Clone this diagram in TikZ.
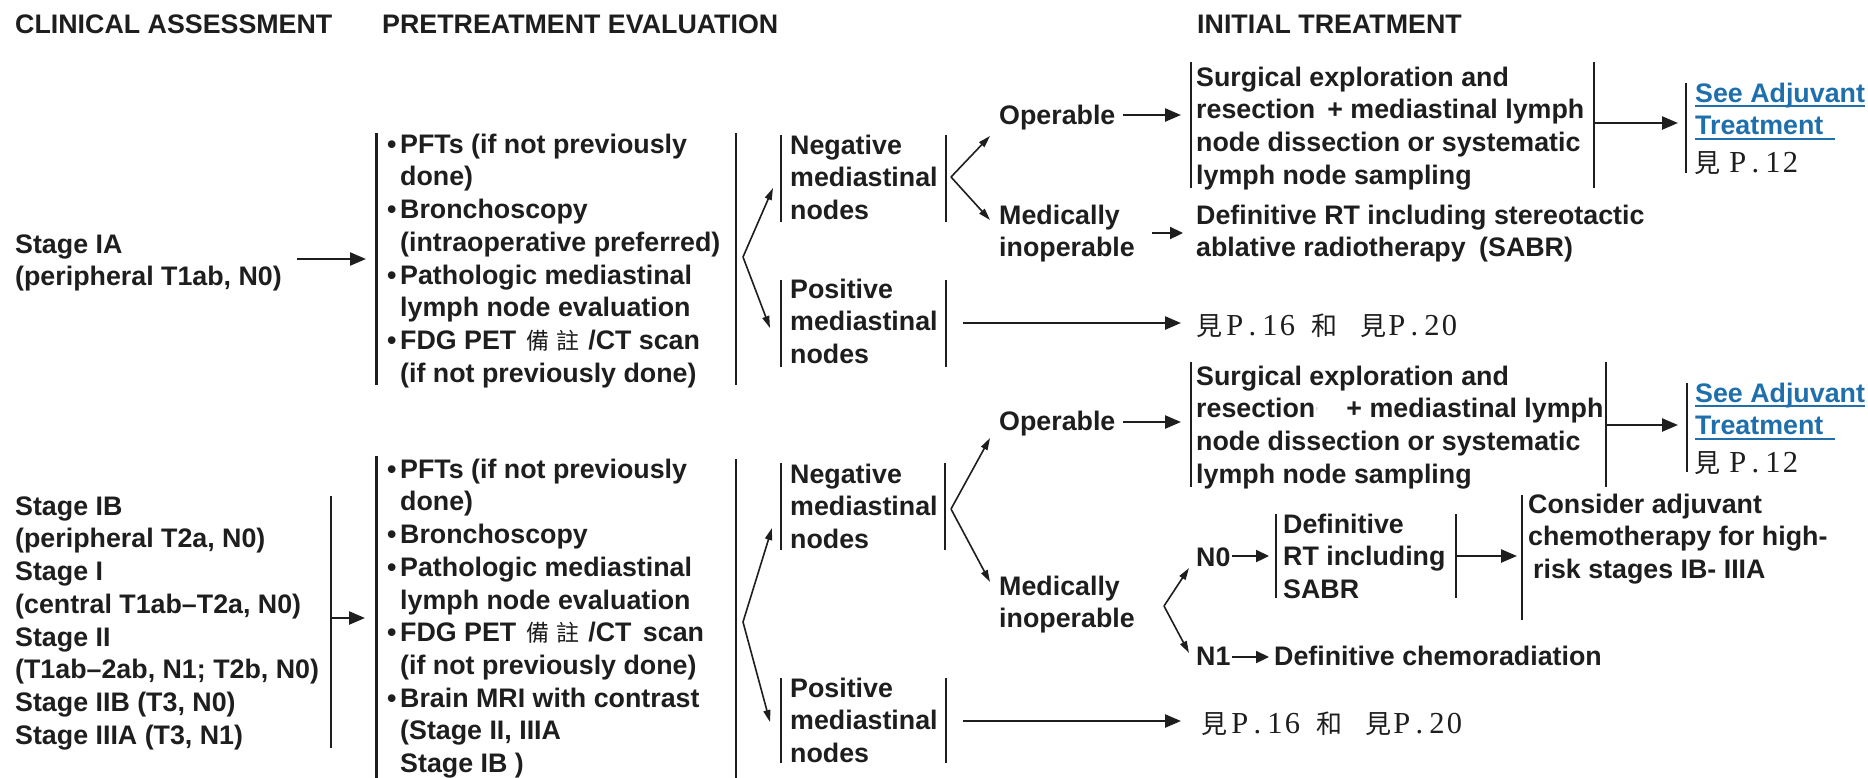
\documentclass[tikz,border=0pt]{standalone}
\usepackage{fontspec}
\usepackage{graphicx}
\setmainfont{Liberation Sans}
\newfontfamily\cjk{Noto Sans CJK TC}
\newfontfamily\serifm{Liberation Serif}
\usetikzlibrary{arrows.meta}

\definecolor{ink}{RGB}{30,30,30}
\definecolor{linkblue}{RGB}{31,111,173}

\newcommand\bodyfont{\fontsize{26.8}{32.7}\selectfont\bfseries}
\newcommand\fs{\rule{0pt}{20pt}}
\newcommand\bul{\makebox[13pt][l]{\textbullet}}
\newcommand\ind{\hspace*{13pt}}
% fixed-pitch serif page references
\newcommand\mingfont{\serifm\mdseries\fontsize{30.5}{32}\selectfont}
\newcommand\mc[1]{\makebox[17.5pt][c]{#1}}
\newcommand\hz[2][25pt]{\makebox[#1][c]{\cjk\mdseries\fontsize{26}{26}\selectfont #2}}
\newcommand\note{\makebox[30pt][c]{\cjk\mdseries\fontsize{23}{23}\selectfont 備}\makebox[30pt][c]{\cjk\mdseries\fontsize{23}{23}\selectfont 註}}
\newcommand\linkline[1]{\setbox0\hbox{#1}\rlap{\rule[-5pt]{\wd0}{2pt}}\box0}
\newcommand\seepage[1]{\hz{見}\hspace{9pt}{\mingfont\mc{P}\mc{.}#1}}
\newcommand\seeboth{\hz{見}\hspace{4pt}{\mingfont\mc{P}\mc{.}\mc{1}\mc{6}}\hspace{16pt}\hz{和}\hspace{24pt}\hz{見}\hspace{2pt}{\mingfont\mc{P}\mc{.}\mc{2}\mc{0}}}

\begin{document}
\begin{tikzpicture}[x=1pt,y=-1pt,
  txt/.style={anchor=north west, inner sep=0pt, align=left, font=\bodyfont, text=ink},
  bl/.style={anchor=base west, inner sep=0pt, font=\bodyfont, text=ink},
  bar/.style={draw=ink, line width=2.2pt},
  conn/.style={draw=ink, line width=2.4pt, -{Triangle[length=16pt,width=13pt]}},
  shortconn/.style={draw=ink, line width=2.2pt, -{Triangle[length=13pt,width=12pt]}},
  fork/.style={draw=ink, line width=1.6pt, -{Triangle[length=12pt,width=7pt]}}]
\useasboundingbox[fill=white] (0,0) rectangle (1868,777);

% column headings
\node[txt] (hca) at (15,13) {\fs CLINICAL ASSESSMENT};
\node[txt] (hpe) at (382,13) {\fs PRETREATMENT EVALUATION};
\node[txt] (hit) at (1197,13) {\fs INITIAL TREATMENT};

% ---------------- Stage IA ----------------
\node[txt] (sIA) at (15,233) {\fs Stage IA\\(peripheral T1ab, N0)};
\coordinate (sIAo) at (297,259);
\coordinate (p1i) at (366,259);
\draw[conn] (sIAo) -- (p1i);

\node[txt] (pre1) at (387,133) {\fs\bul PFTs (if not previously\\
  \ind done)\\
  \bul Bronchoscopy\\
  \ind(intraoperative preferred)\\
  \bul Pathologic mediastinal\\
  \ind lymph node evaluation\\
  \bul FDG PET\hspace{7pt}\note\hspace{5pt}/CT scan\\
  \ind(if not previously done)};
\draw[bar] (376.5,133) -- (376.5,385);
\draw[bar] (736,133) -- (736,385);

\coordinate (f1) at (743,257);
\coordinate (neg1i) at (773,188);
\coordinate (pos1i) at (770,328);
\draw[fork] (f1) -- (neg1i);
\draw[fork] (f1) -- (pos1i);

\node[txt] (neg1) at (790,134) {\fs Negative\\mediastinal\\nodes};
\draw[bar] (781,135) -- (781,222);
\draw[bar] (946,135) -- (946,222);
\node[txt] (pos1) at (790,278) {\fs Positive\\mediastinal\\nodes};
\draw[bar] (781,280) -- (781,367);
\draw[bar] (946,280) -- (946,367);

\coordinate (f2) at (951,177);
\coordinate (op1i) at (990,136);
\coordinate (med1i) at (990,220);
\draw[fork] (f2) -- (op1i);
\draw[fork] (f2) -- (med1i);

\node[txt] (op1) at (999,104) {\fs Operable};
\coordinate (op1o) at (1123,115);
\coordinate (sur1i) at (1181,115);
\draw[conn] (op1o) -- (sur1i);

\node[txt] (sur1) at (1196,66) {\fs Surgical exploration and\\
  resection\hspace{12pt}+ mediastinal lymph\\
  node dissection or systematic\\
  lymph node sampling};
\draw[bar] (1191,62) -- (1191,188);
\draw[bar] (1594,62) -- (1594,188);
\coordinate (sur1o) at (1594,123);
\coordinate (see1i) at (1678,123);
\draw[conn] (sur1o) -- (see1i);

\node[txt] (see1) at (1695,82) {\fs{\color{linkblue}\linkline{See Adjuvant}}\\
  {\color{linkblue}\linkline{Treatment\hspace{12pt}}}\\[5pt]
  \seepage{\mc{1}\mc{2}}};
\draw[bar] (1686,83) -- (1686,173);

\node[txt] (med1) at (999,204) {\fs Medically\\inoperable};
\coordinate (med1o) at (1152,233);
\coordinate (sabr1i) at (1183,233);
\draw[shortconn] (med1o) -- (sabr1i);
\node[txt] (sabr1) at (1196,204) {\fs Definitive RT including stereotactic\\
  ablative radiotherapy\hspace{6pt} (SABR)};

\coordinate (pos1o) at (963,323);
\coordinate (ref1i) at (1181,323);
\draw[conn] (pos1o) -- (ref1i);
\node[bl] (ref1) at (1197,335) {\seeboth};

% ---------------- Stage IB - IIIA ----------------
\node[txt] (sIB) at (15,495) {\fs Stage IB\\
  (peripheral T2a, N0)\\
  Stage I\\
  (central T1ab--T2a, N0)\\
  Stage II\\
  (T1ab--2ab, N1; T2b, N0)\\
  Stage IIB (T3, N0)\\
  Stage IIIA (T3, N1)};
\draw[bar] (331,496) -- (331,748);
\coordinate (sIBo) at (331,618);
\coordinate (p2i) at (365,618);
\draw[conn] (sIBo) -- (p2i);

\node[txt] (pre2) at (387,458) {\fs\bul PFTs (if not previously\\
  \ind done)\\
  \bul Bronchoscopy\\
  \bul Pathologic mediastinal\\
  \ind lymph node evaluation\\
  \bul FDG PET\hspace{7pt}\note\hspace{5pt}/CT\hspace{4pt} scan\\
  \ind(if not previously done)\\
  \bul Brain MRI with contrast\\
  \ind(Stage II, IIIA\\
  \ind Stage IB )};
\draw[bar] (376.5,456) -- (376.5,780);
\draw[bar] (736,459) -- (736,780);

\coordinate (f3) at (743,622);
\coordinate (neg2i) at (772,528);
\coordinate (pos2i) at (770,722);
\draw[fork] (f3) -- (neg2i);
\draw[fork] (f3) -- (pos2i);

\node[txt] (neg2) at (790,463) {\fs Negative\\mediastinal\\nodes};
\draw[bar] (781,463) -- (781,550);
\draw[bar] (945,463) -- (945,550);
\node[txt] (pos2) at (790,677) {\fs Positive\\mediastinal\\nodes};
\draw[bar] (781,678) -- (781,763);
\draw[bar] (946,678) -- (946,763);

\coordinate (f4) at (951,509);
\coordinate (op2i) at (990,438);
\coordinate (med2i) at (990,582);
\draw[fork] (f4) -- (op2i);
\draw[fork] (f4) -- (med2i);

\node[txt] (op2) at (999,410) {\fs Operable};
\coordinate (op2o) at (1123,422);
\coordinate (sur2i) at (1181,422);
\draw[conn] (op2o) -- (sur2i);

\node[txt] (sur2) at (1196,365) {\fs Surgical exploration and\\
  resection{\color{black!25}\fontsize{14}{14}\selectfont\mdseries'}\hspace{28pt}+ mediastinal lymph\\
  node dissection or systematic\\
  lymph node sampling};
\draw[bar] (1191,362) -- (1191,487);
\draw[bar] (1606,362) -- (1606,487);
\coordinate (sur2o) at (1606,425);
\coordinate (see2i) at (1678,425);
\draw[conn] (sur2o) -- (see2i);

\node[txt] (see2) at (1695,382) {\fs{\color{linkblue}\linkline{See Adjuvant}}\\
  {\color{linkblue}\linkline{Treatment\hspace{12pt}}}\\[5pt]
  \seepage{\mc{1}\mc{2}}};
\draw[bar] (1687,383) -- (1687,472);

\node[txt] (med2) at (999,575) {\fs Medically\\inoperable};
\coordinate (f5) at (1164,606);
\coordinate (n0i) at (1189,568);
\coordinate (n1i) at (1189,653);
\draw[fork] (f5) -- (n0i);
\draw[fork] (f5) -- (n1i);

\node[bl] (n0) at (1196,566) {N0};
\coordinate (n0o) at (1232,556);
\coordinate (def2i) at (1269,556);
\draw[shortconn] (n0o) -- (def2i);

\node[txt] (def2) at (1283,513) {\fs Definitive\\RT including\\SABR};
\draw[bar] (1276,514) -- (1276,598);
\draw[bar] (1456,514) -- (1456,598);
\coordinate (def2o) at (1456,556);
\coordinate (adj2i) at (1517,556);
\draw[conn] (def2o) -- (adj2i);

\node[txt] (adj2) at (1528,493) {\fs Consider adjuvant\\
  chemotherapy for high-\\
  \hspace*{5pt}risk stages IB- IIIA};
\draw[bar] (1522,495) -- (1522,620);

\node[bl] (n1) at (1196,665) {N1};
\coordinate (n1o) at (1232,657);
\coordinate (chemi) at (1269,657);
\draw[shortconn] (n1o) -- (chemi);
\node[bl] (chem) at (1274,665) {Definitive chemoradiation};

\coordinate (pos2o) at (963,721);
\coordinate (ref2i) at (1181,721);
\draw[conn] (pos2o) -- (ref2i);
\node[bl] (ref2) at (1202,733) {\seeboth};
\end{tikzpicture}
\end{document}
